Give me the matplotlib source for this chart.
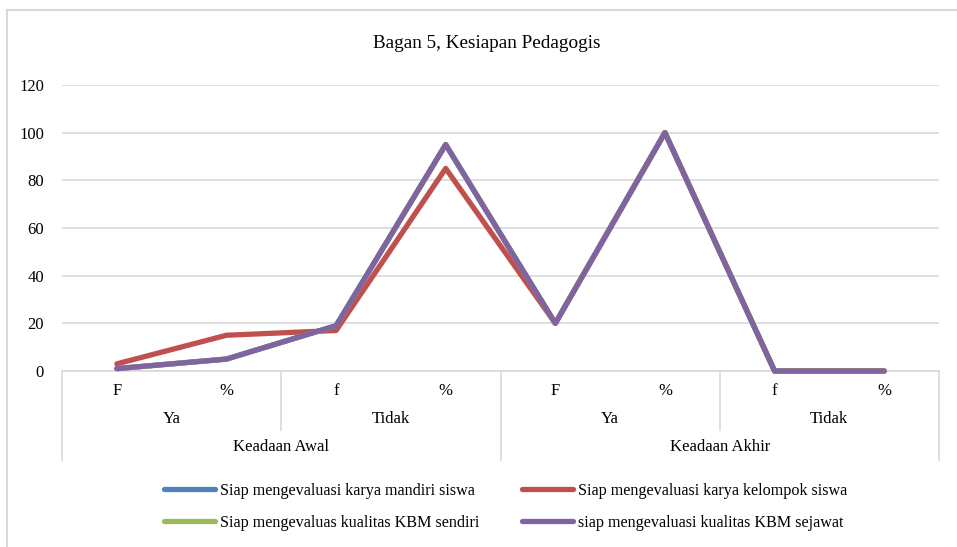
import matplotlib
matplotlib.use('agg')
import matplotlib.pyplot as plt
from matplotlib.patches import Rectangle
from matplotlib.lines import Line2D

plt.rcParams['font.family'] = ['Liberation Serif', 'DejaVu Serif']

level1 = ['F', '%', 'f', '%', 'F', '%', 'f', '%']
level2 = ['Ya', 'Tidak', 'Ya', 'Tidak']
level3 = ['Keadaan Awal', 'Keadaan Akhir']

names = ['Siap mengevaluasi karya mandiri siswa',
         'Siap mengevaluasi karya kelompok siswa',
         'Siap mengevaluas kualitas KBM sendiri',
         'siap mengevaluasi kualitas KBM sejawat']
mandiri = [1, 5, 19, 95, 20, 100, 0, 0]
kelompok = [3, 15, 17, 85, 20, 100, 0, 0]
sendiri = [1, 5, 19, 95, 20, 100, 0, 0]
sejawat = [1, 5, 19, 95, 20, 100, 0, 0]
colors = ['#4f81bd', '#c0504d', '#9bbb59', '#8064a2']

W, H = 957, 547
fig = plt.figure(figsize=(W / 100, H / 100), dpi=100)
# chart border (only left and top edges fall inside the picture)
fig.patches.append(Rectangle((6.5 / W, -0.1), 1.2, 1.1 - 9.5 / H, transform=fig.transFigure,
                             fill=False, edgecolor='#d9d9d9', lw=1.5))

ax = fig.add_axes([62 / W, (H - 371) / H, (939 - 62) / W, (371 - 85) / H])
x = list(range(len(level1)))
series = [mandiri, kelompok, sendiri, sejawat]
for s, c, n in zip(series, colors, names):
    ax.plot(x, s, color=c, lw=3.8, label=n, solid_joinstyle='round',
            solid_capstyle='round', clip_on=False, zorder=3)

ax.set_xlim(-0.5, len(level1) - 0.5)
ax.set_ylim(0, 120)
ax.set_yticks(range(0, 121, 20))
ax.tick_params(axis='y', length=0, labelsize=12, pad=13)
ax.set_xticks([])
ax.grid(axis='y', color='#d9d9d9', lw=1.2)
ax.set_axisbelow(True)
for sp in ['top', 'right', 'left']:
    ax.spines[sp].set_visible(False)
ax.spines['bottom'].set_color('#d9d9d9')
ax.spines['bottom'].set_linewidth(1.2)

tr = ax.get_xaxis_transform()
ah = 371 - 85
for i, lab in enumerate(level1):
    ax.text(i, -20 / ah, lab, transform=tr, ha='center', va='center', fontsize=12)
for j, lab in enumerate(level2):
    ax.text(2 * j + 0.5, -48 / ah, lab, transform=tr, ha='center', va='center', fontsize=12)
for k, lab in enumerate(level3):
    ax.text(4 * k + 1.5, -76 / ah, lab, transform=tr, ha='center', va='center', fontsize=12)

# separators of the category groups
for b in range(len(level1) // 2 + 1):
    xb = 2 * b - 0.5
    depth = 89 if b % 2 == 0 else 59
    ax.add_line(Line2D([xb, xb], [0, -depth / ah], transform=tr, color='#d9d9d9',
                       lw=1.2, clip_on=False))

fig.text(487 / W, 1 - 43 / H, 'Bagan 5, Kesiapan Pedagogis', ha='center', va='center', fontsize=13.8)

h, l = ax.get_legend_handles_labels()
order = [0, 2, 1, 3]
fig.legend([h[i] for i in order], [l[i] for i in order], ncol=2, frameon=False,
           loc='center', bbox_to_anchor=(505.5 / W, 1 - 507 / H), fontsize=11.6,
           handlelength=3.2, handletextpad=0.3, columnspacing=2.6, labelspacing=1.0)

fig.savefig('out.png', dpi=100)
